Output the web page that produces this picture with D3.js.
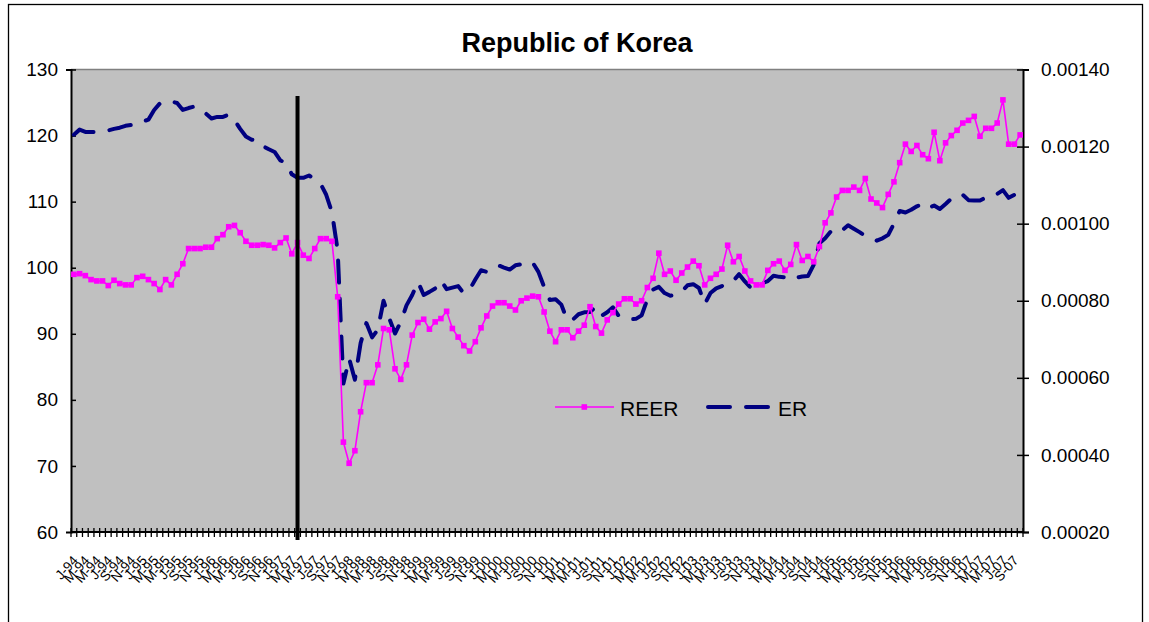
<!DOCTYPE html>
<html>
<head>
<meta charset="utf-8">
<script src="https://cdn.jsdelivr.net/npm/d3@7/dist/d3.min.js"></script>
<style>
  body { margin: 0; background: #fff; }
  text { font-family: Arial, "Liberation Sans", sans-serif; }
</style>
</head>
<body>
<svg id="chart" width="1149" height="622"></svg>
<script>
// monthly, Jan 1994 .. Oct 2007
const years = ["94","95","96","97","98","99","00","01","02","03","04","05","06","07"]
const monthLetters = ["J","F","M","A","M","J","J","A","S","O","N","D"]
const nMonths = 166

const reer = [
  99.0, 99.1, 98.8, 98.2, 98.0, 98.0, 97.3, 98.1, 97.6, 97.4, 97.4, 98.5,
  98.7, 98.2, 97.6, 96.7, 98.2, 97.4, 99.0, 100.6, 102.9, 102.9, 102.9, 103.1,
  103.1, 104.4, 105.0, 106.2, 106.4, 105.3, 104.0, 103.4, 103.4, 103.5, 103.4, 103.0,
  103.8, 104.5, 102.1, 103.8, 101.9, 101.4, 102.9, 104.4, 104.4, 104.0, 95.6, 73.6,
  70.4, 72.3, 78.2, 82.6, 82.6, 85.3, 90.8, 90.6, 84.7, 83.1, 85.3, 89.8,
  91.7, 92.2, 90.7, 91.8, 92.3, 93.4, 90.8, 89.5, 88.2, 87.4, 88.8, 90.9,
  92.7, 94.2, 94.7, 94.7, 94.2, 93.6, 95.0, 95.4, 95.7, 95.6, 93.3, 90.4,
  88.8, 90.6, 90.6, 89.4, 90.4, 91.3, 94.1, 91.1, 90.1, 92.1, 93.2, 94.5,
  95.3, 95.3, 94.5, 95.0, 97.0, 98.4, 102.2, 99.0, 99.5, 98.1, 99.2, 100.1,
  101.0, 100.3, 97.4, 98.4, 99.0, 99.8, 103.4, 100.9, 101.7, 99.5, 98.0, 97.4,
  97.4, 99.6, 100.6, 101.0, 99.6, 100.5, 103.5, 101.1, 101.7, 100.9, 103.2, 106.8,
  108.3, 110.7, 111.7, 111.7, 112.2, 111.7, 113.5, 110.4, 109.8, 109.1, 111.1, 113.0,
  115.9, 118.7, 117.6, 118.5, 117.1, 116.5, 120.5, 116.2, 118.9, 120.0, 120.8, 121.9,
  122.3, 122.9, 119.9, 121.1, 121.1, 121.9, 125.4, 118.7, 118.7, 120.1
]

// ER in units of 1e-5
const er = [
  123.1, 124.4, 123.8, 123.8, 123.8, 124.0, 124.2, 124.6, 124.9, 125.4, 125.6, 126.4,
  126.5, 127.0, 129.5, 131.2, 131.8, 131.7, 131.3, 129.5, 130.0, 130.4, 129.9, 128.6,
  127.3, 127.7, 127.7, 128.3, 126.9, 124.6, 122.6, 121.8, 121.7, 120.1, 119.3, 118.6,
  116.4, 115.8, 112.8, 111.9, 111.9, 112.5, 111.5, 110.4, 107.5, 103.0, 93.0, 58.5,
  65.0, 59.5, 69.0, 74.2, 70.5, 72.5, 80.0, 75.4, 71.5, 74.5, 78.8, 81.5,
  84.9, 81.5, 82.3, 83.2, 85.3, 83.0, 83.4, 83.8, 81.9, 82.9, 85.5, 87.9,
  87.5, 88.5, 89.2, 88.6, 88.1, 89.2, 89.5, 90.1, 89.9, 87.5, 83.6, 80.2,
  80.4, 79.0, 75.0, 75.1, 76.5, 77.0, 77.1, 78.4, 76.1, 77.0, 78.3, 76.1,
  75.8, 75.2, 75.3, 76.2, 80.4, 82.9, 83.6, 82.0, 81.3, 81.5, 82.4, 84.0,
  84.3, 83.3, 79.1, 82.0, 83.2, 83.8, 84.9, 85.2, 86.9, 85.0, 83.4, 84.2,
  84.5, 85.1, 86.5, 86.2, 86.1, 85.4, 86.0, 86.3, 86.4, 89.3, 94.9, 96.2,
  98.0, 98.9, 98.3, 99.6, 98.7, 97.8, 96.8, 96.0, 95.6, 96.2, 97.1, 100.0,
  103.3, 102.9, 103.6, 104.5, 105.2, 104.1, 104.7, 103.8, 105.1, 106.5, 107.6, 107.5,
  106.1, 106.0, 106.0, 106.8, 107.6, 107.7, 108.7, 106.7, 107.5, 110.8
].map(v => v * 1e-5)

const leftTicks = [60, 70, 80, 90, 100, 110, 120, 130]
const rightTicks = [0.0002, 0.0004, 0.0006, 0.0008, 0.0010, 0.0012, 0.0014]
const markerMonth = 39 // vertical line, Apr 1997

const categories = []
years.forEach(y => monthLetters.forEach(m => categories.push(m + "-" + y)))
categories.length = nMonths

const svg = d3.select("#chart")

const plot = {left: 71, right: 1023, top: 69.5, bottom: 532}

const x = d3.scaleBand()
  .domain(d3.range(nMonths))
  .range([plot.left, plot.right])
  .paddingInner(0).paddingOuter(0)
const cx = i => x(i) + x.bandwidth() / 2

const yL = d3.scaleLinear().domain([60, 130]).range([plot.bottom, plot.top])
const yR = d3.scaleLinear().domain([0.0002, 0.0014]).range([plot.bottom, plot.top])

// outer frame
svg.append("rect")
  .attr("x", 8.5).attr("y", 4.5)
  .attr("width", 1134).attr("height", 630)
  .attr("fill", "none").attr("stroke", "#000").attr("stroke-width", 1.3)

// plot background
svg.append("rect")
  .attr("x", plot.left).attr("y", plot.top)
  .attr("width", plot.right - plot.left).attr("height", plot.bottom - plot.top)
  .attr("fill", "#c0c0c0")
svg.append("line")
  .attr("x1", plot.left).attr("x2", plot.right)
  .attr("y1", plot.top).attr("y2", plot.top)
  .attr("stroke", "#808080").attr("stroke-width", 1.5)

// title
svg.append("text")
  .attr("x", 577).attr("y", 52)
  .attr("text-anchor", "middle")
  .attr("font-size", 27).attr("font-weight", "bold")
  .text("Republic of Korea")

// left axis
svg.append("g")
  .attr("transform", `translate(${plot.left},0)`)
  .call(d3.axisLeft(yL).tickValues(leftTicks).tickFormat(d3.format("d")).tickSize(5).tickPadding(8))
  .call(g => g.select(".domain").attr("stroke-width", 2))
  .call(g => g.selectAll(".tick line").attr("x2", 5).attr("stroke-width", 1.5))
  .call(g => g.selectAll("text").attr("font-size", 19).attr("fill", "#000"))

// right axis
svg.append("g")
  .attr("transform", `translate(${plot.right},0)`)
  .call(d3.axisRight(yR).tickValues(rightTicks).tickFormat(d3.format(".5f")).tickSize(6).tickPadding(12))
  .call(g => g.select(".domain").attr("stroke-width", 2))
  .call(g => g.selectAll(".tick line").attr("x1", -6).attr("stroke-width", 1.5))
  .call(g => g.selectAll("text").attr("font-size", 19).attr("fill", "#000"))

// bottom axis: ticks between months, labels every 2nd month
const xAxis = svg.append("g").attr("transform", `translate(0,${plot.bottom})`)
xAxis.append("line")
  .attr("x1", plot.left).attr("x2", plot.right)
  .attr("stroke", "#000").attr("stroke-width", 2)
xAxis.selectAll("line.tk")
  .data(d3.range(nMonths + 1))
  .join("line").attr("class", "tk")
  .attr("x1", i => i < nMonths ? x(i) : plot.right)
  .attr("x2", i => i < nMonths ? x(i) : plot.right)
  .attr("y1", -4).attr("y2", 5)
  .attr("stroke", "#000").attr("stroke-width", 1.3)
xAxis.selectAll("text")
  .data(d3.range(0, nMonths, 2))
  .join("text")
  .attr("transform", i => `translate(${cx(i) + 5},${29}) rotate(-48)`)
  .attr("text-anchor", "end")
  .attr("font-size", 13.5)
  .text(i => categories[i])

// ER dashed line
const erLine = d3.line().x((d, i) => cx(i)).y(d => yR(d))
svg.append("path")
  .datum(er)
  .attr("d", erLine)
  .attr("fill", "none")
  .attr("stroke", "#000080")
  .attr("stroke-width", 4)
  .attr("stroke-linecap", "round")
  .attr("stroke-linejoin", "round")
  .attr("stroke-dasharray", "22,16")

// REER line with square markers
const reerLine = d3.line().x((d, i) => cx(i)).y(d => yL(d))
svg.append("path")
  .datum(reer)
  .attr("d", reerLine)
  .attr("fill", "none")
  .attr("stroke", "#ff00ff")
  .attr("stroke-width", 1.6)
svg.append("g").selectAll("rect")
  .data(reer)
  .join("rect")
  .attr("x", (d, i) => cx(i) - 2.8).attr("y", d => yL(d) - 2.8)
  .attr("width", 5.6).attr("height", 5.6)
  .attr("fill", "#ff00ff")

// vertical marker
svg.append("line")
  .attr("x1", cx(markerMonth)).attr("x2", cx(markerMonth))
  .attr("y1", 96).attr("y2", 540)
  .attr("stroke", "#000").attr("stroke-width", 4)

// legend
const legend = svg.append("g")
legend.append("line")
  .attr("x1", 555).attr("x2", 614).attr("y1", 407).attr("y2", 407)
  .attr("stroke", "#ff00ff").attr("stroke-width", 1.6)
legend.append("rect")
  .attr("x", 581.5).attr("y", 404.2).attr("width", 5.6).attr("height", 5.6)
  .attr("fill", "#ff00ff")
legend.append("text")
  .attr("x", 620).attr("y", 416).attr("font-size", 21)
  .text("REER")
legend.append("line")
  .attr("x1", 708).attr("x2", 772).attr("y1", 407).attr("y2", 407)
  .attr("stroke", "#000080").attr("stroke-width", 4)
  .attr("stroke-linecap", "round")
  .attr("stroke-dasharray", "22,16")
legend.append("text")
  .attr("x", 778).attr("y", 416).attr("font-size", 21)
  .text("ER")
</script>
</body>
</html>
